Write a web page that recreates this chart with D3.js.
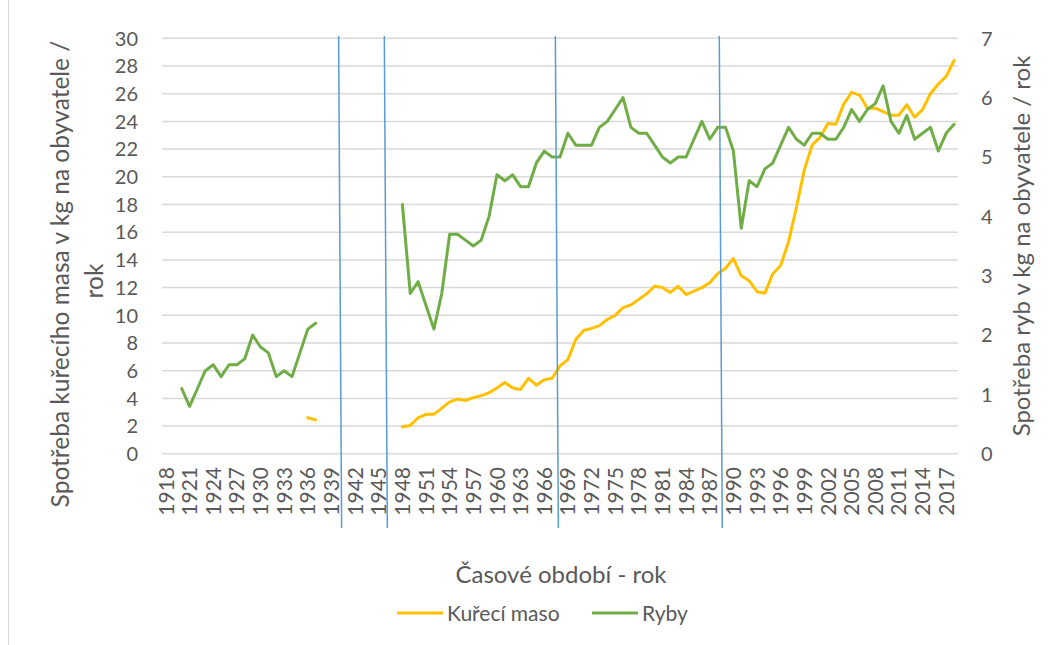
<!DOCTYPE html>
<html>
<head>
<meta charset="utf-8">
<script src="https://cdn.jsdelivr.net/npm/d3@7"></script>
<style>
  body { margin: 0; background: #fff; }
  svg { display: block; font-family: Lato, "Open Sans", sans-serif; }
</style>
</head>
<body>
<svg width="1054" height="645"></svg>
<script>
// categories
var years = d3.range(1918, 2019);
var tickYears = years.filter(function(y) { return (y - 1918) % 3 === 0; });

// chicken meat, kg per person per year (left axis)
var kureciMaso = [
  null, null, null, null, null, null, null, null, null, null,
  null, null, null, null, null, null, null, null, 2.6, 2.45,
  null, null, null, null, null, null, null, null, null, null,
  1.95, 2.05, 2.6, 2.85, 2.85, 3.3, 3.75, 3.95, 3.85, 4.05,
  4.2, 4.4, 4.75, 5.15, 4.75, 4.65, 5.45, 4.95, 5.35, 5.45,
  6.35, 6.8, 8.25, 8.9, 9.05, 9.25, 9.7, 10.0, 10.55, 10.75,
  11.15, 11.55, 12.1, 12.0, 11.65, 12.1, 11.5, 11.75, 12.0, 12.35,
  13.0, 13.4, 14.1, 12.85, 12.5, 11.7, 11.6, 13.0, 13.6, 15.3,
  17.8, 20.5, 22.3, 22.85, 23.85, 23.8, 25.25, 26.1, 25.9, 24.95,
  24.95, 24.7, 24.45, 24.45, 25.2, 24.3, 24.85, 26.0, 26.7, 27.25,
  28.4
];

// fish, kg per person per year (right axis)
var ryby = [
  null, null, 1.1, 0.8, 1.1, 1.4, 1.5, 1.3, 1.5, 1.5,
  1.6, 2.0, 1.8, 1.7, 1.3, 1.4, 1.3, 1.7, 2.1, 2.2,
  null, null, null, null, null, null, null, null, null, null,
  4.2, 2.7, 2.9, 2.5, 2.1, 2.7, 3.7, 3.7, 3.6, 3.5,
  3.6, 4.0, 4.7, 4.6, 4.7, 4.5, 4.5, 4.9, 5.1, 5.0,
  5.0, 5.4, 5.2, 5.2, 5.2, 5.5, 5.6, 5.8, 6.0, 5.5,
  5.4, 5.4, 5.2, 5.0, 4.9, 5.0, 5.0, 5.3, 5.6, 5.3,
  5.5, 5.5, 5.1, 3.8, 4.6, 4.5, 4.8, 4.9, 5.2, 5.5,
  5.3, 5.2, 5.4, 5.4, 5.3, 5.3, 5.5, 5.8, 5.6, 5.8,
  5.9, 6.2, 5.6, 5.4, 5.7, 5.3, 5.4, 5.5, 5.1, 5.4,
  5.55
];

var leftTicks = d3.range(0, 31, 2);
var rightTicks = d3.range(0, 8, 1);

// hand drawn period separators (in years)
var periodLines = [1940.1, 1945.9, 1967.6, 1988.4];

var svg = d3.select("svg");
var plotLeft = 162, plotRight = 958, plotTop = 38.3, plotBottom = 453.8;
var textColor = "#595959";

var x = d3.scaleBand().domain(years).range([plotLeft, plotRight]);
var cx = function(y) { return x(y) + x.bandwidth() / 2; };
var yL = d3.scaleLinear().domain([0, 30]).range([plotBottom, plotTop]);
var yR = d3.scaleLinear().domain([0, 7]).range([plotBottom, plotTop]);

// outer frame edge
svg.append("line")
    .attr("x1", 8.5).attr("x2", 8.5).attr("y1", 0).attr("y2", 645)
    .style("stroke", "#d9d9d9").style("stroke-width", 1);

// gridlines
svg.append("g").selectAll("line")
    .data(leftTicks)
    .enter().append("line")
    .attr("x1", plotLeft).attr("x2", plotRight)
    .attr("y1", function(d) { return yL(d); })
    .attr("y2", function(d) { return yL(d); })
    .style("stroke", "#d9d9d9").style("stroke-width", 1.5);

// left axis labels
svg.append("g").selectAll("text")
    .data(leftTicks)
    .enter().append("text")
    .attr("x", 138).attr("y", function(d) { return yL(d); })
    .attr("dy", "0.36em")
    .style("text-anchor", "end").style("font-size", "20px").style("fill", textColor)
    .text(function(d) { return d; });

// right axis labels
svg.append("g").selectAll("text")
    .data(rightTicks)
    .enter().append("text")
    .attr("x", 981).attr("y", function(d) { return yR(d); })
    .attr("dy", "0.36em")
    .style("text-anchor", "start").style("font-size", "20px").style("fill", textColor)
    .text(function(d) { return d; });

// x labels
svg.append("g").selectAll("text")
    .data(tickYears)
    .enter().append("text")
    .attr("transform", function(d) { return "translate(" + cx(d) + ",467) rotate(-90)"; })
    .attr("dy", "0.36em")
    .style("text-anchor", "end").style("font-size", "21px").style("fill", textColor)
    .text(function(d) { return d; });

// lines
var lineL = d3.line()
    .defined(function(d) { return d.v != null; })
    .x(function(d) { return cx(d.year); })
    .y(function(d) { return yL(d.v); });
var lineR = d3.line()
    .defined(function(d) { return d.v != null; })
    .x(function(d) { return cx(d.year); })
    .y(function(d) { return yR(d.v); });

svg.append("path")
    .datum(years.map(function(y, i) { return { year: y, v: kureciMaso[i] }; }))
    .attr("d", lineL)
    .style("fill", "none").style("stroke", "#FFC000").style("stroke-width", 3)
    .style("stroke-linejoin", "round").style("stroke-linecap", "round");

svg.append("path")
    .datum(years.map(function(y, i) { return { year: y, v: ryby[i] }; }))
    .attr("d", lineR)
    .style("fill", "none").style("stroke", "#70AD47").style("stroke-width", 3)
    .style("stroke-linejoin", "round").style("stroke-linecap", "round");

// period separators
var yearPos = d3.scaleLinear().domain([1918, 2018]).range([cx(1918), cx(2018)]);
svg.append("g").selectAll("line")
    .data(periodLines)
    .enter().append("line")
    .attr("x1", function(d) { return yearPos(d) - 1.5; })
    .attr("x2", function(d) { return yearPos(d) + 1.5; })
    .attr("y1", 36).attr("y2", 528)
    .style("stroke", "#5B9BD5").style("stroke-width", 1.5);

// axis titles
svg.append("text")
    .attr("transform", "translate(60,274) rotate(-90)")
    .attr("dy", "0.36em")
    .style("text-anchor", "middle").style("font-size", "24.5px").style("fill", textColor)
    .text("Spotřeba kuřecího masa v kg na obyvatele /");
svg.append("text")
    .attr("transform", "translate(94,281) rotate(-90)")
    .attr("dy", "0.36em")
    .style("text-anchor", "middle").style("font-size", "24.5px").style("fill", textColor)
    .text("rok");
svg.append("text")
    .attr("transform", "translate(1021,246) rotate(-90)")
    .attr("dy", "0.36em")
    .style("text-anchor", "middle").style("font-size", "24px").style("fill", textColor)
    .text("Spotřeba ryb v kg na obyvatele / rok");

svg.append("text")
    .attr("x", 561).attr("y", 583)
    .style("text-anchor", "middle").style("font-size", "24px").style("fill", textColor)
    .text("Časové období - rok");

// legend
var legend = [
  { name: "Kuřecí maso", color: "#FFC000", x: 397 },
  { name: "Ryby", color: "#70AD47", x: 592 }
];
var lg = svg.append("g").selectAll("g")
    .data(legend)
    .enter().append("g")
    .attr("transform", function(d) { return "translate(" + d.x + ",613)"; });
lg.append("line")
    .attr("x1", 0).attr("x2", 46)
    .style("stroke", function(d) { return d.color; }).style("stroke-width", 3);
lg.append("text")
    .attr("x", 50).attr("dy", "0.36em")
    .style("font-size", "21px").style("fill", textColor)
    .text(function(d) { return d.name; });
</script>
</body>
</html>
